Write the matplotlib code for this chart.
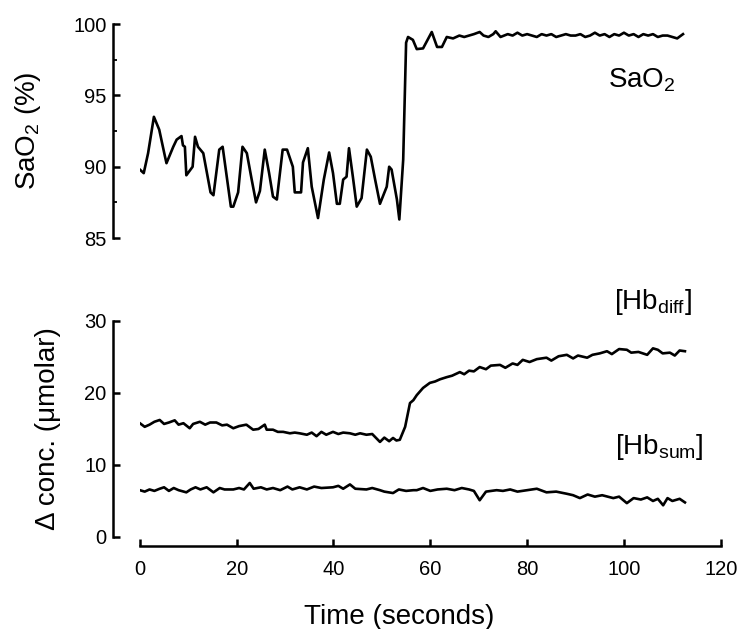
import matplotlib
matplotlib.use("Agg")
import matplotlib.pyplot as plt
from matplotlib.ticker import MultipleLocator

plt.rcParams['font.family'] = ['Liberation Sans', 'DejaVu Sans']
plt.rcParams['mathtext.fontset'] = 'custom'
plt.rcParams['mathtext.rm'] = 'Liberation Sans'
plt.rcParams['mathtext.it'] = 'Liberation Sans:italic'

# SaO2 trace (time in s, %)
sao2_t = [0, 0.8, 1.7, 2.9, 4.0, 5.2, 5.5, 6.9, 7.6, 8.6,
          8.9, 9.3, 9.6, 10.9, 11.4, 12.0, 13.1, 14.6, 15.2, 16.4,
          17.1, 18.8, 19.3, 20.3, 21.2, 22.1, 23.1, 24.0, 24.8, 25.8,
          26.7, 27.5, 28.3, 29.5, 30.4, 31.6, 32.0, 33.3, 33.7, 34.7,
          35.5, 36.8, 38.0, 39.1, 39.9, 40.7, 41.3, 42.0, 42.7, 43.2,
          44.0, 44.8, 45.8, 46.9, 47.7, 48.6, 49.6, 51.0, 51.5, 52.0,
          53.1, 53.6, 54.4, 55.0, 55.4, 56.4, 57.2, 58.5, 60.3, 61.4,
          62.4, 63.4, 64.7, 66, 67, 68, 69, 70.2, 71, 72,
          73, 73.5, 74.5, 76, 77, 78, 79, 80, 81, 82,
          83, 84, 85, 86, 87, 88, 89, 90, 91, 92,
          93, 94, 95, 96, 97, 98, 99, 100, 101, 102,
          103, 104, 105, 106, 107, 108, 109, 110, 111, 112.2]
sao2_v = [89.8, 89.55, 90.95, 93.5, 92.6, 90.7, 90.25, 91.4, 91.9, 92.15,
          91.5, 91.4, 89.4, 90.0, 92.1, 91.4, 90.95, 88.2, 88.0, 91.2,
          91.4, 87.2, 87.2, 88.2, 91.4, 90.95, 89.1, 87.5, 88.3, 91.2,
          89.55, 87.9, 87.7, 91.2, 91.2, 90.0, 88.2, 88.2, 90.3, 91.3,
          88.6, 86.4, 89.1, 91.0, 89.55, 87.4, 87.4, 89.1, 89.3, 91.3,
          89.3, 87.2, 87.8, 91.2, 90.7, 89.1, 87.4, 88.6, 90.0, 89.8,
          87.7, 86.3, 90.5, 98.7, 99.1, 98.9, 98.25, 98.3, 99.45, 98.4,
          98.4, 99.1, 99.0, 99.2, 99.1, 99.2, 99.3, 99.45, 99.2, 99.1,
          99.3, 99.5, 99.1, 99.3, 99.2, 99.4, 99.2, 99.3, 99.2, 99.1,
          99.3, 99.2, 99.3, 99.1, 99.2, 99.3, 99.2, 99.2, 99.3, 99.1,
          99.2, 99.4, 99.2, 99.3, 99.1, 99.3, 99.2, 99.4, 99.2, 99.3,
          99.1, 99.3, 99.2, 99.3, 99.1, 99.2, 99.2, 99.1, 99.0, 99.3]

# [Hb_diff] trace
diff_t = [0, 1, 2, 3, 4.1, 5, 6, 7.2, 8, 9,
          10.3, 11, 12.4, 13.5, 14.5, 15.8, 17, 18, 19.3, 20.5,
          22, 23.4, 24.5, 25.8, 26.2, 27.5, 28.5, 29.6, 31, 32,
          33, 34.5, 35.5, 36.5, 37.5, 38.5, 39.9, 41, 42, 43.4,
          44.5, 45.5, 46.8, 48, 49.6, 50.5, 51.5, 52.3, 53, 53.7,
          54.8, 55.8, 56.5, 57.2, 58.5, 59.9, 61, 62, 63.4, 64.5,
          66.1, 67, 68, 69, 70.2, 71.5, 72.5, 74.4, 75.5, 77,
          78, 79.1, 80.5, 82, 84, 85, 86.5, 88.2, 89.5, 90.5,
          92.4, 93.5, 95, 96.5, 97.5, 99, 100.6, 101.5, 103, 104.8,
          106, 107, 108, 109.5, 110.5, 111.5, 112.6]
diff_v = [15.8, 15.3, 15.6, 16.0, 16.25, 15.7, 15.9, 16.2, 15.6, 15.8,
          15.1, 15.7, 16.0, 15.6, 15.9, 15.9, 15.5, 15.6, 15.1, 15.4,
          15.6, 14.9, 15.0, 15.6, 14.9, 14.9, 14.6, 14.6, 14.4, 14.5,
          14.4, 14.2, 14.5, 14.0, 14.6, 14.2, 14.6, 14.3, 14.5, 14.4,
          14.2, 14.4, 14.2, 14.3, 13.2, 13.8, 13.3, 13.75, 13.4, 13.5,
          15.3, 18.6, 19.0, 19.7, 20.7, 21.4, 21.6, 21.9, 22.2, 22.4,
          22.9, 22.6, 23.1, 23.0, 23.6, 23.3, 23.8, 23.9, 23.5, 24.1,
          23.9, 24.6, 24.3, 24.7, 24.9, 24.5, 25.1, 25.3, 24.8, 25.2,
          24.9, 25.3, 25.5, 25.8, 25.4, 26.1, 26.0, 25.6, 25.7, 25.3,
          26.2, 26.0, 25.5, 25.6, 25.2, 25.9, 25.8]

# [Hb_sum] trace
sum_t = [0, 1, 2, 3, 4.1, 5, 6, 7, 8, 9.6,
         10.5, 11.5, 12.5, 13.8, 15.2, 16.5, 17.5, 19.3, 20.5, 21.5,
         22.7, 23.5, 25, 26.2, 27.5, 29, 30.5, 31.5, 33, 34.5,
         36, 37.5, 39.9, 41, 42, 43.4, 44.5, 46.8, 48, 49.6,
         50.5, 52.3, 53.5, 55, 56.5, 57.2, 58.5, 60, 61.5, 63.4,
         65, 66.5, 68, 69, 70.2, 71.5, 73.7, 75, 76.5, 78,
         80, 82, 84, 86, 88.2, 89.5, 90.9, 92.5, 94, 95.5,
         97.8, 99, 100.6, 102, 103.5, 104.8, 106, 107, 108.1, 109,
         110, 111.5, 112.6]
sum_v = [6.5, 6.3, 6.6, 6.4, 6.7, 6.9, 6.4, 6.8, 6.5, 6.2,
         6.6, 6.9, 6.6, 6.9, 6.2, 6.8, 6.6, 6.6, 6.8, 6.6,
         7.5, 6.7, 6.9, 6.6, 6.8, 6.5, 7.0, 6.6, 6.9, 6.6,
         7.0, 6.8, 6.9, 7.1, 6.7, 7.3, 6.7, 6.6, 6.8, 6.5,
         6.3, 6.1, 6.6, 6.4, 6.5, 6.5, 6.8, 6.4, 6.6, 6.7,
         6.5, 6.8, 6.6, 6.4, 5.1, 6.3, 6.5, 6.4, 6.6, 6.3,
         6.5, 6.7, 6.2, 6.3, 6.0, 5.8, 5.4, 5.9, 5.6, 5.8,
         5.4, 5.6, 4.7, 5.4, 5.2, 5.5, 5.0, 5.3, 4.4, 5.4,
         5.0, 5.3, 4.8]

fig = plt.figure(figsize=(7.4, 6.29), dpi=100)
ax1 = fig.add_axes([0.189, 0.6216, 0.785, 0.340])
ax2 = fig.add_axes([0.189, 0.1463, 0.785, 0.3434])

lw = 1.9
ax1.plot(sao2_t, sao2_v, color='black', linewidth=lw)
ax2.plot(diff_t, diff_v, color='black', linewidth=lw)
ax2.plot(sum_t, sum_v, color='black', linewidth=lw)

# top panel: only a left axis
ax1.set_xlim(0, 120)
ax1.set_ylim(85, 100)
ax1.set_yticks([85, 90, 95, 100])
ax1.yaxis.set_minor_locator(MultipleLocator(2.5))
ax1.set_xticks([])
for s in ['top', 'right', 'bottom']:
    ax1.spines[s].set_visible(False)
ax1.spines['left'].set_position(('outward', 19))

ax2.set_xlim(0, 120)
ax2.set_ylim(0, 30)
ax2.set_yticks([0, 10, 20, 30])
ax2.set_xticks([0, 20, 40, 60, 80, 100, 120])
for s in ['top', 'right']:
    ax2.spines[s].set_visible(False)
ax2.spines['left'].set_position(('outward', 19))
ax2.spines['bottom'].set_position(('outward', 6.5))

for ax in (ax1, ax2):
    ax.spines['left'].set_linewidth(1.8)
    ax.spines['bottom'].set_linewidth(1.8)
    ax.tick_params(direction='in', length=5, width=1.8, labelsize=14.5)
    ax.tick_params(axis='y', pad=5)
    ax.tick_params(axis='x', pad=10)
    ax.tick_params(which='minor', direction='in', length=3, width=1.3)
    ax.patch.set_visible(False)

ax1.set_ylabel('SaO$_2$ (%)', fontsize=20)
ax1.yaxis.set_label_coords(-0.167, 0.5)
ax2.set_ylabel('Δ conc. (μmolar)', fontsize=20)
ax2.yaxis.set_label_coords(-0.136, 0.5)
ax2.set_xlabel('Time (seconds)', fontsize=20)
ax2.xaxis.set_label_coords(0.447, -0.31)

ax1.text(103.7, 96.1, 'SaO$_2$', fontsize=20, ha='center', va='center')
ax2.text(106, 32.6, '[Hb$_{\\mathrm{diff}}$]', fontsize=20, ha='center', va='center')
ax2.text(107.4, 12.5, '[Hb$_{\\mathrm{sum}}$]', fontsize=20, ha='center', va='center')

plt.savefig('out.png', dpi=100)
